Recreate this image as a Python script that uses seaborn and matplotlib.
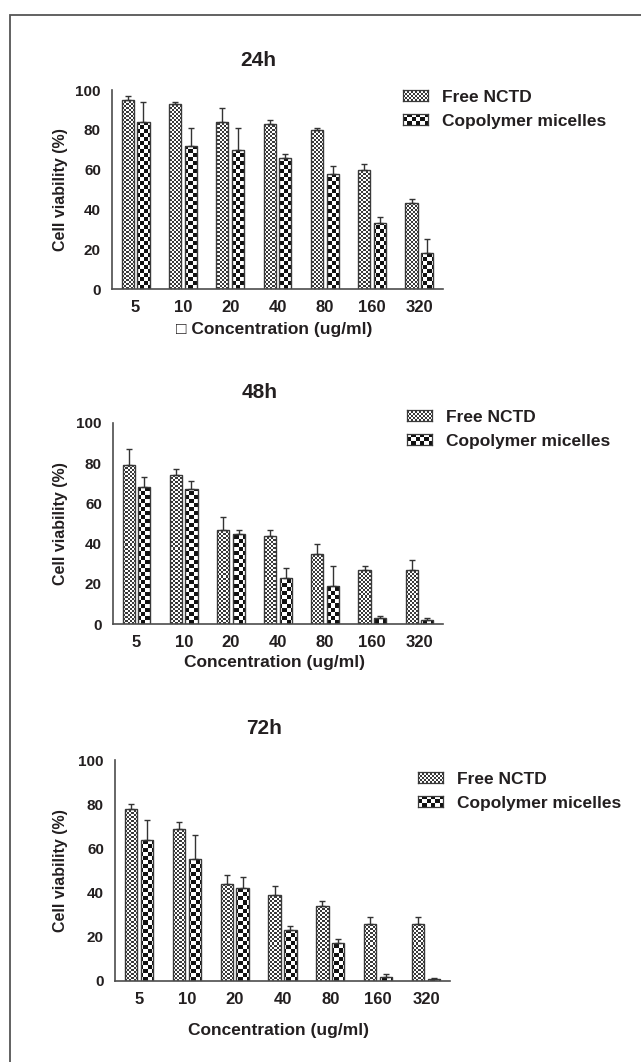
import numpy as np
import pandas as pd
import matplotlib
matplotlib.use("Agg")
import matplotlib.pyplot as plt
import seaborn as sns
from matplotlib.patches import Patch, Rectangle
from matplotlib.image import AxesImage

# ---------------- data ----------------
concentrations = ["5", "10", "20", "40", "80", "160", "320"]
groups = ["Free NCTD", "Copolymer micelles"]
panels = ["24h", "48h", "72h"]

free_24 = [95, 93, 84, 83, 80, 60, 43]
free_24_err = [2, 1, 7, 2, 1, 3, 2]
cop_24 = [84, 72, 70, 66, 58, 33, 18]
cop_24_err = [10, 9, 11, 2, 4, 3, 7]

free_48 = [79, 74, 47, 44, 35, 27, 27]
free_48_err = [8, 3, 6, 3, 5, 2, 5]
cop_48 = [68, 67, 45, 23, 19, 3, 2]
cop_48_err = [5, 4, 2, 5, 10, 1, 1]

free_72 = [78, 69, 44, 39, 34, 26, 26]
free_72_err = [2, 3, 4, 4, 2, 3, 3]
cop_72 = [64, 55, 42, 23, 17, 2, 1]
cop_72_err = [9, 11, 5, 2, 2, 1, 0.3]

y_ticks = [0, 20, 40, 60, 80, 100]
xlabels = ["\u25a1 Concentration (ug/ml)", "Concentration (ug/ml)", "Concentration (ug/ml)"]
ylabel = "Cell viability (%)"

series = {
    "24h": (free_24, free_24_err, cop_24, cop_24_err),
    "48h": (free_48, free_48_err, cop_48, cop_48_err),
    "72h": (free_72, free_72_err, cop_72, cop_72_err),
}

# ---------------- style ----------------
sns.set_theme(style="white")
plt.rcParams["font.family"] = ["Liberation Sans", "DejaVu Sans"]
plt.rcParams["font.weight"] = "bold"
TXT = "#231f20"
AX = "#4d4d4d"

W, H = 641, 1062
fig = plt.figure(figsize=(W / 100, H / 100), dpi=100)
fig.patch.set_facecolor("white")

# outer frame
fig.add_artist(Rectangle((10 / W, -0.05), 1.2, 1 - 15.5 / H + 0.05,
                         transform=fig.transFigure, fill=False,
                         edgecolor="#555555", linewidth=1.3))

# layout in pixels: left, right, top, bottom
boxes = [(112, 443, 90, 289), (113, 443, 423, 624), (115, 450, 760, 981)]
titles_xy = [(258, 60), (260, 393), (264, 728)]
xlabel_xy = [(274, 329), (275, 663), (278, 1031)]
ylabel_x = 60
legend_anchor = [(403, 90), (407, 410), (418, 772)]


def checker(nx, ny, dark, light):
    iy, ix = np.indices((ny, nx))
    m = (ix + iy) % 2
    rgb_d = np.array(matplotlib.colors.to_rgb(dark))
    rgb_l = np.array(matplotlib.colors.to_rgb(light))
    return np.where(m[..., None] == 1, rgb_d, rgb_l)


fine = dict(cell=2, dark="#3a3a3a", light="#ffffff")
coarse = dict(cell=4, dark="#111111", light="#ffffff")
styles = [fine, coarse]

legend_handles_all = []
for k, (name, (l, r, t, b)) in enumerate(zip(panels, boxes)):
    ax = fig.add_axes([l / W, 1 - b / H, (r - l) / W, (b - t) / H])
    f, fe, c, ce = series[name]
    df = pd.DataFrame({
        "conc": concentrations * 2,
        "group": [groups[0]] * 7 + [groups[1]] * 7,
        "value": f + c,
    })
    sns.barplot(data=df, x="conc", y="value", hue="group", order=concentrations,
                hue_order=groups, palette=["white", "white"], width=0.66, gap=0.22,
                edgecolor="#3a3a3a", linewidth=1.0, errorbar=None, legend=False, ax=ax)
    ax.set_autoscale_on(False)
    ax.set_xlim(-0.5, 6.5)
    ax.set_ylim(0, 100)

    pw, ph = ax.bbox.width, ax.bbox.height
    errs = [fe, ce]
    bar_containers = list(ax.containers)[:2]
    for gi, cont in enumerate(bar_containers):
        st = styles[gi]
        nx, ny = int(round(pw / st["cell"])), int(round(ph / st["cell"]))
        img = checker(nx, ny, st["dark"], st["light"])
        xs, ys = [], []
        for p in cont.patches:
            im = AxesImage(ax, interpolation="nearest", extent=(0, 1, 0, 1),
                           origin="lower", transform=ax.transAxes)
            im.set_data(img)
            im.set_clip_path(p)
            im.set_zorder(p.get_zorder() - 0.05)
            ax.add_image(im)
            p.set_facecolor("none")
            xs.append(p.get_x() + p.get_width() / 2)
            ys.append(p.get_height())
        ax.errorbar(xs, ys, yerr=[np.zeros(len(ys)), errs[gi]], fmt="none",
                    ecolor="#333333", elinewidth=1.0, capsize=2.5, capthick=1.0,
                    zorder=5)

    sns.despine(ax=ax)
    for s in ("left", "bottom"):
        ax.spines[s].set_color(AX)
        ax.spines[s].set_linewidth(1.2)
    ax.set_yticks(y_ticks)
    ax.tick_params(axis="y", length=4, width=1, color=AX, pad=4,
                   labelsize=11, labelcolor=TXT)
    ax.tick_params(axis="x", length=5, width=1, color=AX, pad=3,
                   labelsize=12, labelcolor=TXT)
    for lab in ax.get_xticklabels() + ax.get_yticklabels():
        lab.set_fontweight("bold")
    ax.grid(False)

    ax.set_xlabel(xlabels[k], fontsize=12.5, fontweight="bold", color=TXT, va="center")
    ax.xaxis.set_label_coords((xlabel_xy[k][0] - l) / (r - l), (b - xlabel_xy[k][1]) / (b - t))
    ax.set_ylabel(ylabel, fontsize=11.5, fontweight="bold", color=TXT, va="center")
    ax.yaxis.set_label_coords((ylabel_x - l) / (r - l), 0.5)

    fig.text(titles_xy[k][0] / W, 1 - titles_xy[k][1] / H, name, fontsize=15,
             fontweight="bold", color=TXT, ha="center", va="center")

    handles = [Patch(facecolor="none", edgecolor="none", label=g) for g in groups]
    leg = ax.legend(handles=handles, loc="upper left",
                    bbox_to_anchor=(legend_anchor[k][0] / W, 1 - legend_anchor[k][1] / H),
                    bbox_transform=fig.transFigure, frameon=False, borderpad=0,
                    borderaxespad=0, handlelength=1.45, handleheight=0.6,
                    handletextpad=0.8, labelspacing=0.5,
                    prop={"size": 12.5, "weight": "bold"})
    for tx in leg.get_texts():
        tx.set_color(TXT)
    legend_handles_all.append(leg)

# legend swatches filled with the same checker patterns
fig.canvas.draw()
renderer = fig.canvas.get_renderer()
for leg in legend_handles_all:
    for gi, h in enumerate(leg.legend_handles):
        bb = h.get_window_extent(renderer).transformed(fig.transFigure.inverted())
        st = styles[gi]
        wpx, hpx = bb.width * W, bb.height * H
        nx = max(1, int(round(wpx / st["cell"])))
        ny = max(1, int(round(hpx / st["cell"])))
        iax = fig.add_axes([bb.x0, bb.y0, bb.width, bb.height])
        iax.imshow(checker(nx, ny, st["dark"], st["light"]),
                   interpolation="nearest", aspect="auto")
        iax.set_xticks([])
        iax.set_yticks([])
        for s in iax.spines.values():
            s.set_color("#3a3a3a")
            s.set_linewidth(0.9)

fig.savefig("out.png", dpi=100, facecolor="white")
